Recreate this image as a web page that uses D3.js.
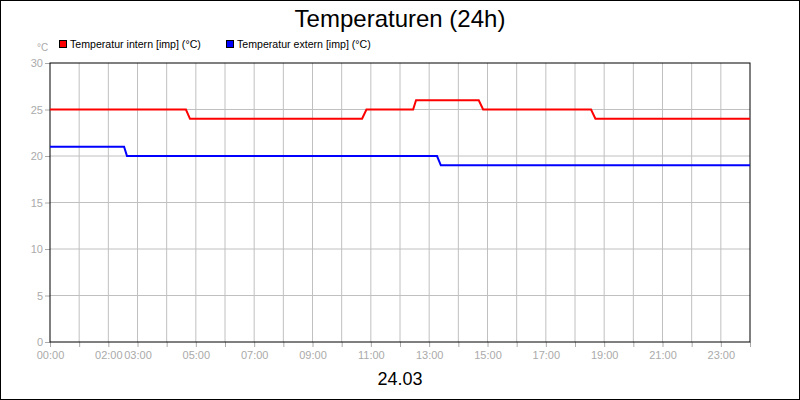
<!DOCTYPE html><html><head><meta charset="utf-8"><script src="https://cdn.jsdelivr.net/npm/d3@7"></script>
<style>body{margin:0}svg{font-family:"Liberation Sans",Arial,sans-serif}</style></head><body>
<svg id="c" width="800" height="400"></svg>
<script>
const internT=[0,4.66,4.8,10.7,10.85,12.45,12.55,14.7,14.85,18.55,18.7,24];
const internV=[25,25,24,24,25,25,26,26,25,25,24,24];
const externT=[0,2.54,2.64,13.27,13.4,24];
const externV=[21,21,20,20,19,19];
const yTicks=[0,5,10,15,20,25,30];
const xLabels={0:"00:00",2:"02:00",3:"03:00",5:"05:00",7:"07:00",9:"09:00",11:"11:00",13:"13:00",15:"15:00",17:"17:00",19:"19:00",21:"21:00",23:"23:00"};
const svg=d3.select("#c");
svg.append("rect").attr("x",0.5).attr("y",0.5).attr("width",799).attr("height",399).attr("fill","#fff").attr("stroke","#000");
const x=d3.scaleLinear().domain([0,24]).range([50,750]);
const y=d3.scaleLinear().domain([0,30]).range([342,63]);
const g=svg.append("g");
d3.range(1,24).forEach(h=>g.append("line").attr("x1",x(h)).attr("x2",x(h)).attr("y1",63).attr("y2",342).attr("stroke","#c0c0c0"));
yTicks.slice(1,-1).forEach(v=>g.append("line").attr("x1",50).attr("x2",750).attr("y1",y(v)).attr("y2",y(v)).attr("stroke","#c0c0c0"));
const ya=svg.append("g").attr("transform","translate(50,0)").call(d3.axisLeft(y).tickValues(yTicks).tickSize(5).tickPadding(2));
ya.select(".domain").remove();
ya.selectAll("line").attr("stroke","#aaa");
ya.selectAll("text").attr("fill","#aaa").style("font-size","11px").style("font-family","Liberation Sans");
const xa=svg.append("g").attr("transform","translate(0,342)").call(d3.axisBottom(x).tickValues(d3.range(0,25)).tickSize(5).tickPadding(4).tickFormat(d=>xLabels[d]||""));
xa.select(".domain").remove();
xa.selectAll("line").attr("stroke","#aaa");
xa.selectAll("text").attr("fill","#aaa").style("font-size","11px").style("font-family","Liberation Sans");
svg.append("rect").attr("x",50).attr("y",63).attr("width",700).attr("height",279).attr("fill","none").attr("stroke","#000");
const line=d3.line().x(d=>x(d[0])).y(d=>y(d[1]));
svg.append("path").attr("d",line(d3.zip(externT,externV))).attr("fill","none").attr("stroke","#0000ff").attr("stroke-width",2);
svg.append("path").attr("d",line(d3.zip(internT,internV))).attr("fill","none").attr("stroke","#ff0000").attr("stroke-width",2);
svg.append("text").attr("x",400).attr("y",27).attr("text-anchor","middle").style("font-size","24px").text("Temperaturen (24h)");
svg.append("text").attr("x",400).attr("y",385).attr("text-anchor","middle").style("font-size","18px").text("24.03");
svg.append("text").attr("x",37).attr("y",51).attr("fill","#aaa").style("font-size","10px").text("°C");
[["Temperatur intern [imp] (°C)","#ff0000",59],["Temperatur extern [imp] (°C)","#0000ff",226]].forEach(([t,c,lx])=>{
 svg.append("rect").attr("x",lx+0.5).attr("y",40.5).attr("width",7).attr("height",7).attr("fill",c).attr("stroke","#000");
 svg.append("text").attr("x",lx+11).attr("y",48).style("font-size","10.6px").text(t);
});
</script></body></html>
